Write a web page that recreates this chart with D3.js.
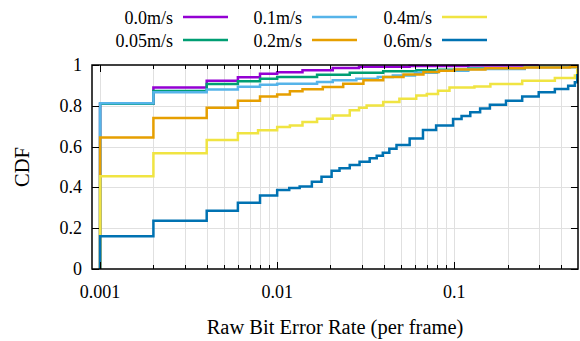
<!DOCTYPE html>
<meta charset="utf-8">
<style>
  body { margin: 0; background: white; }
  text { font-family: "Liberation Serif", "DejaVu Serif", serif; font-size: 18px; fill: #000; }
  .title { font-size: 20.5px; }
  .grid line { stroke: #e0e0e0; stroke-width: 1; }
  .curve { fill: none; stroke-width: 2.5; stroke-linejoin: miter; }
</style>
<script src="https://cdn.jsdelivr.net/npm/d3@7"></script>
<body>
<script>

  var w = 580, h = 341;
  var pLeft = 92, pRight = 578, pTop = 65, pBottom = 269;

  // speeds, drawing order = legend order (column-wise)
  var speeds = ["0.0m/s", "0.05m/s", "0.1m/s", "0.2m/s", "0.4m/s", "0.6m/s"];
  var colors = ["#9400d3", "#009e73", "#56b4e9", "#e69f00", "#f0e442", "#0072b2"];

  // CDF step points: bit error rate -> cumulative fraction
  var ber00 = [0.001, 0.002, 0.004, 0.006, 0.008, 0.01, 0.0139, 0.0206, 0.029, 0.056, 0.12, 0.3];
  var cdf00 = [0.81, 0.89, 0.923, 0.94, 0.957, 0.965, 0.974, 0.985, 0.992, 0.995, 0.998, 1];

  var ber005 = [0.001, 0.002, 0.004, 0.006, 0.008, 0.01, 0.0168, 0.0257, 0.0397, 0.061, 0.08, 0.12, 0.25, 0.6];
  var cdf005 = [0.81, 0.872, 0.907, 0.92, 0.933, 0.941, 0.952, 0.962, 0.969, 0.974, 0.977, 0.983, 0.99, 1];

  var ber01 = [0.001, 0.002, 0.004, 0.006, 0.008, 0.01, 0.0168, 0.0206, 0.028, 0.037, 0.045, 0.06, 0.08, 0.12, 0.25, 0.6];
  var cdf01 = [0.812, 0.866, 0.88, 0.893, 0.903, 0.908, 0.917, 0.925, 0.933, 0.941, 0.948, 0.962, 0.972, 0.98, 0.99, 1];

  var ber02 = [0.001, 0.002, 0.004, 0.006, 0.008, 0.01, 0.0118, 0.0139, 0.0181, 0.0236, 0.0307, 0.0397, 0.0517, 0.067, 0.082, 0.1, 0.15, 0.25, 0.45, 0.6];
  var cdf02 = [0.645, 0.74, 0.79, 0.825, 0.846, 0.856, 0.871, 0.881, 0.892, 0.908, 0.925, 0.941, 0.954, 0.966, 0.972, 0.978, 0.984, 0.988, 0.99, 1];

  var ber04 = [0.001, 0.002, 0.004, 0.006, 0.0078, 0.01, 0.0118, 0.0139, 0.0168, 0.0206, 0.0257, 0.029, 0.032, 0.0397, 0.049, 0.061, 0.07, 0.081, 0.094, 0.13, 0.16, 0.242, 0.37, 0.48, 0.495, 0.6];
  var cdf04 = [0.455, 0.568, 0.632, 0.665, 0.68, 0.696, 0.704, 0.72, 0.737, 0.753, 0.778, 0.79, 0.802, 0.819, 0.835, 0.851, 0.858, 0.874, 0.89, 0.894, 0.907, 0.923, 0.936, 0.948, 0.975, 1];

  var ber06 = [0.001, 0.002, 0.004, 0.006, 0.008, 0.01, 0.0117, 0.0134, 0.0157, 0.0178, 0.0203, 0.0225, 0.0257, 0.0292, 0.0333, 0.0365, 0.0395, 0.043, 0.0472, 0.056, 0.0666, 0.079, 0.0985, 0.11, 0.1232, 0.14, 0.159, 0.196, 0.242, 0.3, 0.37, 0.44, 0.48, 0.495, 0.6];
  var cdf06 = [0.16, 0.237, 0.286, 0.325, 0.36, 0.387, 0.397, 0.405, 0.428, 0.452, 0.482, 0.494, 0.51, 0.526, 0.543, 0.555, 0.57, 0.59, 0.608, 0.64, 0.681, 0.703, 0.735, 0.75, 0.768, 0.787, 0.805, 0.825, 0.846, 0.866, 0.882, 0.898, 0.915, 0.95, 1];

  var bers = [ber00, ber005, ber01, ber02, ber04, ber06];
  var cdfs = [cdf00, cdf005, cdf01, cdf02, cdf04, cdf06];

  var xTickLabels = [0.001, 0.01, 0.1];
  var yTicks = [0, 0.2, 0.4, 0.6, 0.8, 1];

  var svg = d3.select("body").append("svg")
              .attr("width", w)
              .attr("height", h);

  var x = d3.scaleLog().domain([0.0009, 0.5]).range([pLeft, pRight]);
  var y = d3.scaleLinear().domain([0, 1]).range([pBottom, pTop]);

  // all log ticks (major + minor) inside the range
  var allTicks = x.ticks().filter(function (d) { return d > 0.0009 && d < 0.5; });
  var isMajor = function (d) { return Math.abs(Math.log10(d) - Math.round(Math.log10(d))) < 1e-9; };

  // grid
  var grid = svg.append("g").attr("class", "grid");
  grid.selectAll(".gx").data(allTicks).enter().append("line")
      .attr("x1", function (d) { return Math.round(x(d)) + 0.5; })
      .attr("x2", function (d) { return Math.round(x(d)) + 0.5; })
      .attr("y1", pTop).attr("y2", pBottom);
  grid.selectAll(".gy").data(yTicks.slice(1, -1)).enter().append("line")
      .attr("x1", pLeft).attr("x2", pRight)
      .attr("y1", function (d) { return Math.round(y(d)) + 0.5; })
      .attr("y2", function (d) { return Math.round(y(d)) + 0.5; });

  // curves
  svg.append("clipPath").attr("id", "clip")
     .append("rect").attr("x", pLeft).attr("y", pTop - 2).attr("width", pRight - pLeft).attr("height", pBottom - pTop + 2);

  var line = d3.line()
               .x(function (d) { return x(d[0]); })
               .y(function (d) { return y(d[1]); })
               .curve(d3.curveStepAfter);

  speeds.forEach(function (s, i) {
    var pts = [[bers[i][0], 0]].concat(bers[i].map(function (b, j) { return [b, cdfs[i][j]]; }));
    svg.append("path")
       .attr("class", "curve")
       .attr("clip-path", "url(#clip)")
       .attr("stroke", colors[i])
       .attr("d", line(pts));
  });

  // ticks (inward, mirrored)
  var ticks = svg.append("g").attr("stroke", "#000").attr("stroke-width", 1);
  allTicks.forEach(function (d) {
    var len = isMajor(d) ? 7 : 4;
    var xx = Math.round(x(d)) + 0.5;
    ticks.append("line").attr("x1", xx).attr("x2", xx).attr("y1", pBottom).attr("y2", pBottom - len);
    ticks.append("line").attr("x1", xx).attr("x2", xx).attr("y1", pTop).attr("y2", pTop + len);
  });
  yTicks.forEach(function (d) {
    var yy = Math.round(y(d)) + 0.5;
    ticks.append("line").attr("x1", pLeft).attr("x2", pLeft + 7).attr("y1", yy).attr("y2", yy);
    ticks.append("line").attr("x1", pRight).attr("x2", pRight - 7).attr("y1", yy).attr("y2", yy);
  });

  // frame
  svg.append("rect")
     .attr("x", pLeft).attr("y", pTop)
     .attr("width", pRight - pLeft).attr("height", pBottom - pTop)
     .attr("fill", "none").attr("stroke", "#000").attr("stroke-width", 1.5);

  // tick labels
  svg.selectAll(".xl").data(xTickLabels).enter().append("text")
     .attr("x", function (d) { return x(d); })
     .attr("y", 298)
     .attr("text-anchor", "middle")
     .text(function (d) { return d; });
  svg.selectAll(".yl").data(yTicks).enter().append("text")
     .attr("x", 82)
     .attr("y", function (d) { return y(d) + 6; })
     .attr("text-anchor", "end")
     .text(function (d) { return d; });

  // axis titles
  svg.append("text")
     .attr("class", "title")
     .attr("x", 335)
     .attr("y", 334)
     .attr("text-anchor", "middle")
     .text("Raw Bit Error Rate (per frame)");
  svg.append("text")
     .attr("class", "title")
     .attr("transform", "translate(29," + ((pTop + pBottom) / 2) + ") rotate(-90)")
     .attr("text-anchor", "middle")
     .text("CDF");

  // legend: 3 columns x 2 rows, filled column-wise
  var colText = [173, 302, 432];
  var rowY = [17, 40];
  speeds.forEach(function (s, i) {
    var c = Math.floor(i / 2), r = i % 2;
    svg.append("text")
       .attr("x", colText[c]).attr("y", rowY[r] + 7)
       .attr("text-anchor", "end")
       .text(s);
    svg.append("line")
       .attr("x1", colText[c] + 10).attr("x2", colText[c] + 55)
       .attr("y1", rowY[r]).attr("y2", rowY[r])
       .attr("stroke", colors[i]).attr("stroke-width", 2.5);
  });

</script>
</body>
